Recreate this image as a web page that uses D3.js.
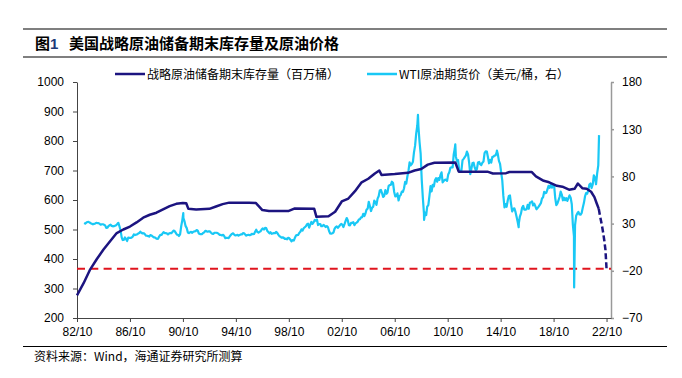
<!DOCTYPE html>
<html>
<head>
<meta charset="utf-8">
<script src="https://cdn.jsdelivr.net/npm/d3@7/dist/d3.min.js"></script>
<style>
  body { margin: 0; background: #fff; }
  svg { display: block; }
  .cn { font-family: "Noto Sans CJK SC", sans-serif; }
  .axis text { font-family: "Liberation Sans", Arial, sans-serif; font-size: 12px; fill: #000; }
</style>
</head>
<body>
<div id="chart"></div>
<script>
// SPR end-of-period stock (million barrels)
const sprDates = ["1982-10","1983-04","1983-10","1984-04","1984-10","1985-04","1985-10","1986-04","1986-10",
  "1987-04","1987-10","1988-04","1988-10","1989-04","1989-10","1990-04","1990-10","1991-01","1991-03","1991-10",
  "1992-10","1993-04","1993-10","1994-04","1995-10","1996-04","1996-10","1997-04","1998-10","1999-03","2000-09",
  "2000-11","2001-10","2002-04","2002-10","2003-04","2003-10","2004-04","2004-10","2005-04","2005-08","2005-10",
  "2006-10","2007-10","2008-04","2008-10","2009-04","2009-10","2011-05","2011-08","2013-10","2014-03","2015-03",
  "2015-06","2017-02","2017-06","2018-01","2018-06","2019-01","2019-06","2019-12","2020-05","2020-08","2020-12",
  "2021-04","2021-08","2021-11","2022-01","2022-03"];
const sprValues = [277,318,365,400,432,460,488,500,510,
  524,540,550,557,568,579,587,590,589,570,568,
  570,578,586,591,591,590,566,563,563,571,570,
  543,545,560,595,605,630,660,672,690,700,685,
  688,692,700,705,720,726,727,696,696,690,691,
  695,695,680,665,660,648,645,635,638,656,640,
  638,628,610,589,570];
// projected (dashed) part
const sprProjDates = ["2022-03","2022-04","2022-05","2022-06","2022-07","2022-08","2022-09","2022-10"];
const sprProjValues = [570,548,530,510,488,462,431,367];
const refValue = 367;

// WTI futures, monthly (USD/bbl), from 1983-04
const wtiStart = "1983-04";
const wtiValues = [
  30.6,30.0,31.0,31.7,31.9,31.1,30.4,29.8,29.2,                         // 1983
  29.7,30.1,30.8,30.6,30.5,29.9,28.8,29.3,29.3,28.8,28.1,25.4,          // 1984
  25.6,27.3,28.2,28.8,27.6,27.1,27.3,27.8,28.3,29.5,30.8,27.2,          // 1985
  22.9,15.4,12.6,12.8,15.4,13.5,11.6,15.1,14.9,14.9,15.2,16.1,          // 1986
  18.6,17.8,18.3,18.6,19.4,20.0,21.4,20.3,19.5,19.8,18.9,17.3,          // 1987
  17.1,16.8,16.2,17.9,17.4,16.5,15.5,15.5,14.5,13.8,14.0,16.3,          // 1988
  18.0,17.9,19.4,21.0,20.0,20.0,19.6,18.5,19.6,20.1,19.8,21.1,          // 1989
  22.6,22.1,20.4,18.4,18.2,16.9,18.6,27.2,33.7,35.9,32.3,27.3,          // 1990
  25.2,20.5,19.9,20.8,21.2,20.2,21.4,21.7,21.9,23.2,22.5,19.5,          // 1991
  18.8,19.0,18.9,20.2,20.9,22.4,21.8,21.4,21.9,21.7,20.3,19.4,          // 1992
  19.1,20.1,20.3,20.3,19.9,19.1,17.9,18.0,17.5,18.1,16.7,14.5,          // 1993
  15.0,14.8,14.7,16.4,17.9,19.1,19.7,18.4,17.5,17.7,18.1,17.2,          // 1994
  18.0,18.6,18.5,19.9,19.7,18.4,17.3,17.9,18.1,17.7,18.1,19.1,          // 1995
  18.9,19.1,21.3,23.5,21.2,20.4,21.3,21.9,23.9,24.9,23.7,25.4,          // 1996
  25.2,22.2,21.0,19.7,20.8,19.2,19.6,19.9,19.8,21.3,20.2,18.3,          // 1997
  16.7,16.1,15.0,15.4,14.9,13.7,14.1,13.4,15.0,14.4,12.9,11.3,          // 1998
  12.5,12.0,14.7,17.3,17.8,17.9,20.1,21.3,23.9,22.6,25.0,26.1,          // 1999
  27.2,29.4,29.9,25.7,28.8,31.8,29.7,31.3,33.9,33.1,34.4,28.5,          // 2000
  29.6,29.6,27.2,27.4,28.6,27.6,26.4,27.4,26.2,22.2,19.6,19.3,          // 2001
  19.7,20.7,24.4,26.2,27.0,25.5,26.9,28.4,29.7,28.9,26.3,29.4,          // 2002
  32.9,35.9,33.6,28.3,28.1,30.7,30.8,31.6,28.3,30.3,31.1,32.1,          // 2003
  34.3,34.7,36.7,36.7,40.3,38.0,40.7,44.9,45.9,53.1,48.5,43.3,          // 2004
  46.8,48.0,54.3,53.0,49.8,56.4,59.0,65.0,65.6,62.4,58.3,59.4,          // 2005
  65.5,61.6,62.9,69.7,70.9,70.9,74.4,73.0,63.8,58.9,59.1,62.0,          // 2006
  54.5,59.3,60.4,63.9,63.5,67.5,74.1,72.4,79.9,85.8,94.8,91.7,          // 2007
  93.0,95.4,105.5,112.6,125.4,133.9,133.4,116.7,104.1,76.6,57.3,41.1,   // 2008
  41.7,39.1,47.9,49.6,59.0,69.6,64.2,71.1,69.5,75.8,78.1,74.3,          // 2009
  78.2,76.4,81.2,84.3,73.7,75.3,76.3,76.6,75.2,81.9,84.3,89.2,          // 2010
  89.6,89.6,102.9,109.5,100.9,96.3,97.3,86.3,85.5,86.3,97.2,98.6,       // 2011
  100.3,102.2,106.2,103.3,94.7,82.3,87.9,94.1,94.5,89.5,86.5,87.9,      // 2012
  94.8,95.3,92.9,92.0,94.5,95.8,104.6,106.6,106.3,100.5,93.9,97.6,      // 2013
  94.6,100.8,100.8,102.1,102.2,105.8,103.6,96.5,93.2,84.4,75.8,59.3,    // 2014
  47.2,50.6,47.8,54.5,59.3,59.8,50.9,42.9,45.5,46.2,42.4,37.2,          // 2015
  31.7,30.3,37.5,40.8,46.7,48.8,44.7,44.7,45.2,49.8,45.7,52.0,          // 2016
  52.5,53.5,49.3,51.1,48.5,45.2,46.6,48.0,49.8,51.6,56.6,57.9,          // 2017
  63.7,62.2,62.7,66.3,70.0,67.9,71.0,68.1,70.2,70.8,57.0,49.5,          // 2018
  51.4,54.9,58.2,63.9,60.8,54.7,57.4,54.8,57.0,54.0,57.0,59.9,          // 2019
  57.5,50.5,29.2,16.6,28.5,38.3,40.7,42.3,39.6,39.4,41.4,47.0,          // 2020
  52.0,59.0,62.3,61.7,65.2,71.4,72.5,67.7,71.5,81.2,78.7,71.7,          // 2021
  83.2,91.6                                                             // 2022
];
// daily extremes visible in the picture
const wtiPeakDates = ["1990-10-11","2008-07-03","2008-12-19","2011-04-29","2014-06-20","2016-02-11","2020-04-20","2022-03-08"];
const wtiPeakValues = [41.1,145.3,33.9,113.9,107.3,26.2,-37.6,123.7];

const W = 682, H = 378;
const mLeft = 77, mRight = 611, mTop = 82, mBottom = 318;
const navy = "#1c1480", cyan = "#19c8f5", red = "#e0141e";

const parseM = d3.timeParse("%Y-%m");
const parseD = d3.timeParse("%Y-%m-%d");

const spr = sprDates.map((d, i) => ({date: parseM(d), v: sprValues[i]}));
const sprProj = sprProjDates.map((d, i) => ({date: parseM(d), v: sprProjValues[i]}));
const wStart = parseM(wtiStart);
let wti = wtiValues.map((v, i) => ({date: d3.timeDay.offset(d3.timeMonth.offset(wStart, i), 14), v}));
wti = wti.concat(wtiPeakDates.map((d, i) => ({date: parseD(d), v: wtiPeakValues[i]})));
wti.sort((a, b) => a.date - b.date);

const x = d3.scaleTime([new Date(1982, 9, 1), new Date(2023, 1, 1)], [mLeft, mRight]);
const yL = d3.scaleLinear([200, 1000], [mBottom, mTop]);
const yR = d3.scaleLinear([-70, 180], [mBottom, mTop]);

const svg = d3.select("#chart").append("svg")
    .attr("width", W)
    .attr("height", H)
    .attr("viewBox", [0, 0, W, H]);

// title block
svg.append("line").attr("x1", 23).attr("x2", 667).attr("y1", 29).attr("y2", 29)
    .attr("stroke", "#000").attr("stroke-width", 1.2);
svg.append("line").attr("x1", 23).attr("x2", 667).attr("y1", 57).attr("y2", 57)
    .attr("stroke", "#000").attr("stroke-width", 1.2);
const title = svg.append("text").attr("class", "cn")
    .attr("x", 35).attr("y", 48.5)
    .attr("font-size", 15).attr("font-weight", "bold");
title.append("tspan").text("图");
title.append("tspan").attr("fill", "#1f3a78").attr("font-family", "Liberation Sans, Arial").text("1");
title.append("tspan").attr("x", 69).text("美国战略原油储备期末库存量及原油价格");

// legend
const legend = [
  {label: "战略原油储备期末库存量（百万桶）", color: navy, x: 115},
  {label: "WTI原油期货价（美元/桶，右）", color: cyan, x: 367}
];
const lg = svg.append("g").selectAll("g").data(legend).join("g")
    .attr("transform", d => `translate(${d.x},74)`);
lg.append("line").attr("x1", 0).attr("x2", 30)
    .attr("stroke", d => d.color).attr("stroke-width", 2.5);
lg.append("text").attr("class", "cn")
    .attr("x", 32).attr("y", 4.5)
    .attr("font-size", 12)
    .text(d => d.label);

// axes
svg.append("g").attr("class", "axis")
    .attr("transform", `translate(${mLeft},0)`)
    .call(d3.axisLeft(yL).tickValues(d3.range(200, 1001, 100)).tickFormat(d3.format("d"))
      .tickSize(4).tickPadding(9).tickSizeOuter(0))
    .call(g => g.selectAll("line, path").attr("stroke", "#444"));

svg.append("g").attr("class", "axis")
    .attr("transform", `translate(${mRight},0)`)
    .call(d3.axisRight(yR).tickValues(d3.range(-70, 181, 50)).tickFormat(d3.format("d"))
      .tickSize(3).tickPadding(8).tickSizeOuter(0))
    .call(g => g.selectAll("line, path").attr("stroke", "#999").attr("stroke-width", 1.5));

const xTicks = d3.range(1982, 2023, 4).map(y => new Date(y, 9, 1));
svg.append("g").attr("class", "axis")
    .attr("transform", `translate(0,${mBottom})`)
    .call(d3.axisBottom(x).tickValues(xTicks).tickFormat(d3.timeFormat("%y/%m")).tickSize(4).tickPadding(5).tickSizeOuter(0))
    .call(g => g.selectAll("line, path").attr("stroke", "#444"));

// reference line
svg.append("line")
    .attr("x1", x.range()[0]).attr("x2", x.range()[1])
    .attr("y1", yL(refValue)).attr("y2", yL(refValue))
    .attr("stroke", red).attr("stroke-width", 2).attr("stroke-dasharray", "8,5.3");

// WTI
svg.append("path").datum(wti)
    .attr("fill", "none").attr("stroke", cyan).attr("stroke-width", 2.2)
    .attr("stroke-linejoin", "round")
    .attr("d", d3.line().x(d => x(d.date)).y(d => yR(d.v)));

// SPR
const sprLine = d3.line().x(d => x(d.date)).y(d => yL(d.v));
svg.append("path").datum(spr)
    .attr("fill", "none").attr("stroke", navy).attr("stroke-width", 2.5)
    .attr("stroke-linejoin", "round")
    .attr("d", sprLine);
svg.append("path").datum(sprProj)
    .attr("fill", "none").attr("stroke", navy).attr("stroke-width", 2.5)
    .attr("stroke-dasharray", "6,3")
    .attr("d", sprLine);

// footer
svg.append("line").attr("x1", 23).attr("x2", 667).attr("y1", 346.5).attr("y2", 346.5)
    .attr("stroke", "#000").attr("stroke-width", 1);
svg.append("text").attr("class", "cn")
    .attr("x", 34).attr("y", 361)
    .attr("font-size", 12)
    .text("资料来源：Wind，海通证券研究所测算");
</script>
</body>
</html>
